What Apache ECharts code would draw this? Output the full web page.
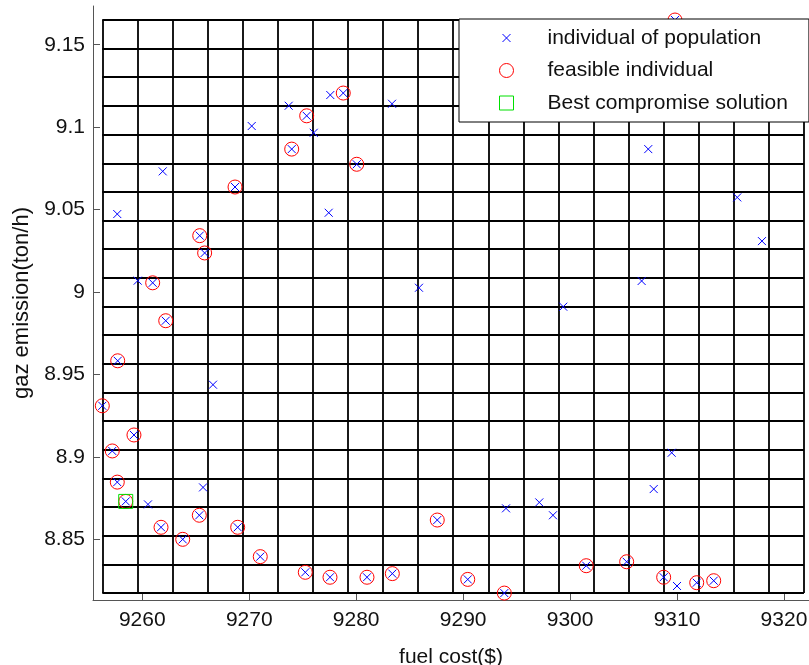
<!DOCTYPE html>
<html>
<head>
<meta charset="utf-8">
<title>population scatter</title>
<script src="https://cdn.jsdelivr.net/npm/echarts@6/dist/echarts.min.js"></script>
<style>
  html, body { margin: 0; padding: 0; background: #fff; }
  #chart { width: 809px; height: 665px; }
</style>
</head>
<body>
<div id="chart"></div>
<script>
  // all individuals of the population (fuel cost $, emission ton/h)
  var popCost = [9273.69, 9270.23, 9261.91, 9257.66, 9276.03, 9277.58, 9283.35, 9277.43,
    9307.31, 9315.63, 9317.94, 9306.69, 9299.36, 9285.87, 9259.57, 9266.61, 9260.53,
    9265.68, 9294.01, 9297.12, 9298.40, 9309.50, 9307.82, 9310.00,
    9309.81, 9273.97, 9268.67, 9275.37, 9278.79, 9280.05, 9265.37, 9265.83, 9260.97,
    9262.19, 9257.70, 9256.26, 9259.22, 9257.19, 9257.66, 9258.45, 9265.33, 9261.75,
    9268.92, 9263.78, 9271.03, 9275.24, 9277.55, 9281.01, 9283.38, 9287.58, 9290.43,
    9293.85, 9301.51, 9305.29, 9308.75, 9311.84, 9313.43];
  var popEmission = [9.1130, 9.1007, 9.0732, 9.0473, 9.0966, 9.1195, 9.1142, 9.0481,
    9.0867, 9.0574, 9.0309, 9.0067, 8.9911, 9.0026, 9.0069, 8.9438, 8.8712,
    8.8815, 8.8688, 8.8724, 8.8646, 8.9025, 8.8805, 8.8217,
    9.1650, 9.0867, 9.0637, 9.1069, 9.1207, 9.0775, 9.0342, 9.0237, 9.0056,
    8.9826, 8.9583, 8.9310, 8.9133, 8.9036, 8.8847, 8.8730, 8.8646, 8.8573,
    8.8573, 8.8500, 8.8395, 8.8300, 8.8270, 8.8270, 8.8292, 8.8617, 8.8257,
    8.8174, 8.8340, 8.8364, 8.8270, 8.8237, 8.8249];

  // feasible individuals
  var feasCost = [9309.81, 9273.97, 9268.67, 9275.37, 9278.79, 9280.05, 9265.37, 9265.83,
    9260.97, 9262.19, 9257.70, 9256.26, 9259.22, 9257.19, 9257.66, 9258.45, 9265.33,
    9261.75, 9268.92, 9263.78, 9271.03, 9275.24, 9277.55, 9281.01, 9283.38, 9287.58,
    9290.43, 9293.85, 9301.51, 9305.29, 9308.75, 9311.84, 9313.43];
  var feasEmission = [9.1650, 9.0867, 9.0637, 9.1069, 9.1207, 9.0775, 9.0342, 9.0237,
    9.0056, 8.9826, 8.9583, 8.9310, 8.9133, 8.9036, 8.8847, 8.8730, 8.8646,
    8.8573, 8.8573, 8.8500, 8.8395, 8.8300, 8.8270, 8.8270, 8.8292, 8.8617,
    8.8257, 8.8174, 8.8340, 8.8364, 8.8270, 8.8237, 8.8249];

  // best compromise solution
  var bestCost = [9258.45];
  var bestEmission = [8.8730];

  // hypercube grid lines
  var gridX = [9256.26, 9259.54, 9262.82, 9266.10, 9269.38, 9272.66, 9275.94, 9279.22,
    9282.50, 9285.78, 9289.07, 9292.35, 9295.63, 9298.91, 9302.19, 9305.47, 9308.75,
    9312.03, 9315.31, 9318.59, 9321.87];
  var gridY = [8.8174, 8.8348, 8.8522, 8.8695, 8.8869, 8.9043, 8.9217, 8.9391, 8.9565,
    8.9738, 8.9912, 9.0086, 9.0260, 9.0434, 9.0608, 9.0781, 9.0955, 9.1129, 9.1303,
    9.1477, 9.1651];

  var xTicks = [9260, 9270, 9280, 9290, 9300, 9310, 9320];
  var yTicks = [8.85, 8.9, 8.95, 9, 9.05, 9.1, 9.15];

  var font = '"Liberation Sans", Arial, sans-serif';
  var axisGray = '#555';

  function pairs(xs, ys) {
    return xs.map(function (x, i) { return [x, ys[i]]; });
  }

  var gridLines = [];
  gridX.forEach(function (v) {
    gridLines.push([{coord: [v, gridY[0]]}, {coord: [v, gridY[gridY.length - 1]]}]);
  });
  gridY.forEach(function (v) {
    gridLines.push([{coord: [gridX[0], v]}, {coord: [gridX[gridX.length - 1], v]}]);
  });

  var chart = echarts.init(document.getElementById('chart'));
  var option = {
    animation: false,
    backgroundColor: '#fff',
    textStyle: {fontFamily: font},
    grid: {left: 93, right: 0, top: 6, bottom: 65, containLabel: false, outerBoundsMode: 'none'},
    legend: {
      orient: 'vertical',
      left: 459,
      top: 19,
      z: 50,
      padding: [8, 21, 8, 11],
      backgroundColor: '#fff',
      borderColor: '#000',
      borderWidth: 1,
      borderRadius: 0,
      itemWidth: 72,
      itemHeight: 14,
      itemGap: 10.5,
      selectedMode: false,
      itemStyle: {borderWidth: 1},
      textStyle: {fontFamily: font, fontSize: 21, color: '#111', lineHeight: 22},
      data: [
        {name: 'individual of population', icon: 'path://M0,0M72,14M32,3L40,11M40,3L32,11'},
        {name: 'feasible individual', icon: 'path://M0,0M72,14M43,7A7,7,0,1,1,29,7A7,7,0,1,1,43,7'},
        {name: 'Best compromise solution', icon: 'path://M0,0M72,14M29,0L43,0L43,14L29,14Z'}
      ]
    },
    xAxis: {
      type: 'value',
      min: 9255.39,
      max: 9322.34,
      name: 'fuel cost($)',
      nameLocation: 'middle',
      nameGap: 47,
      nameTextStyle: {fontFamily: font, fontSize: 21, color: '#111'},
      axisLine: {onZero: false, lineStyle: {color: axisGray, width: 1}},
      axisTick: {inside: true, length: 7, customValues: xTicks, lineStyle: {color: axisGray}},
      axisLabel: {customValues: xTicks, margin: 10, fontSize: 21, color: '#111', fontFamily: font,
        formatter: function (v) { return String(v); }},
      splitLine: {show: false}
    },
    yAxis: {
      type: 'value',
      min: 8.8132,
      max: 9.1735,
      name: 'gaz emission(ton/h)',
      nameLocation: 'middle',
      nameGap: 58,
      nameTextStyle: {fontFamily: font, fontSize: 22, color: '#111'},
      axisLine: {show: true, onZero: false, lineStyle: {color: axisGray, width: 1}},
      axisTick: {show: true, inside: true, length: 7, customValues: yTicks, lineStyle: {color: axisGray}},
      axisLabel: {customValues: yTicks, margin: 8, fontSize: 21, color: '#111', fontFamily: font,
        formatter: function (v) { return String(parseFloat(v.toFixed(2))); }},
      splitLine: {show: false}
    },
    series: [
      {
        name: 'grid',
        type: 'scatter',
        data: [],
        silent: true,
        z: 1,
        markLine: {
          silent: true,
          z: 1,
          symbol: ['none', 'none'],
          label: {show: false},
          emphasis: {disabled: true},
          lineStyle: {color: '#000', width: 1.8, type: 'solid'},
          data: gridLines
        }
      },
      {
        name: 'individual of population',
        type: 'scatter',
        z: 3,
        symbol: 'path://M0,0L8,8M8,0L0,8',
        symbolSize: 8,
        itemStyle: {color: 'transparent', borderColor: '#0000ff', borderWidth: 1, opacity: 1},
        emphasis: {disabled: true},
        data: pairs(popCost, popEmission)
      },
      {
        name: 'feasible individual',
        type: 'scatter',
        z: 4,
        symbol: 'circle',
        symbolSize: 14,
        itemStyle: {color: 'transparent', borderColor: '#ff0000', borderWidth: 1, opacity: 1},
        emphasis: {disabled: true},
        data: pairs(feasCost, feasEmission)
      },
      {
        name: 'Best compromise solution',
        type: 'scatter',
        z: 5,
        symbol: 'rect',
        symbolSize: 14,
        itemStyle: {color: 'transparent', borderColor: '#00e000', borderWidth: 1, opacity: 1},
        emphasis: {disabled: true},
        data: pairs(bestCost, bestEmission)
      }
    ]
  };
  chart.setOption(option);
</script>
</body>
</html>
